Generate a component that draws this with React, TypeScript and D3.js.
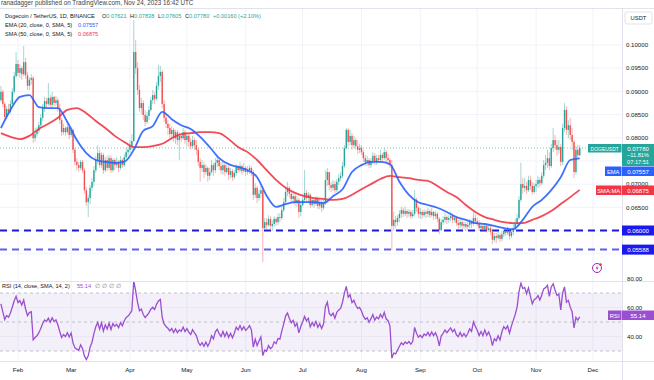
import React, { useMemo } from 'react';
import * as d3 from 'd3';

// ---------- DATA (DOGE/USDT daily, from 2023-01-23) ----------
const startDay = [2023, 0, 23];
const firstOpen = 0.0881;
const closes = [
  0.0899,0.0873,0.0845,0.0862,0.0856,0.0873,0.0899,0.0933,0.0959,0.0940,
  0.0950,0.0937,0.0963,0.0935,0.0912,0.0925,0.0929,0.0799,0.0808,0.0815,
  0.0827,0.0843,0.0864,0.0879,0.0873,0.0886,0.0871,0.0888,0.0875,0.0881,
  0.0864,0.0838,0.0812,0.0821,0.0812,0.0823,0.0806,0.0817,0.0774,0.0748,
  0.0741,0.0735,0.0748,0.0730,0.0687,0.0661,0.0670,0.0692,0.0705,0.0730,
  0.0752,0.0767,0.0741,0.0763,0.0730,0.0752,0.0735,0.0756,0.0730,0.0752,
  0.0741,0.0748,0.0735,0.0752,0.0741,0.0758,0.0769,0.0774,0.0782,0.0793,
  0.0985,0.0950,0.0903,0.0864,0.0875,0.0849,0.0834,0.0847,0.0860,0.0881,
  0.0892,0.0884,0.0912,0.0933,0.0942,0.0873,0.0843,0.0830,0.0821,0.0808,
  0.0817,0.0799,0.0812,0.0795,0.0804,0.0799,0.0812,0.0795,0.0804,0.0791,
  0.0782,0.0795,0.0784,0.0774,0.0748,0.0735,0.0741,0.0726,0.0735,0.0718,
  0.0726,0.0741,0.0730,0.0746,0.0752,0.0739,0.0730,0.0741,0.0726,0.0735,
  0.0720,0.0728,0.0715,0.0724,0.0737,0.0730,0.0739,0.0728,0.0735,0.0726,
  0.0730,0.0735,0.0726,0.0677,0.0692,0.0670,0.0679,0.0687,0.0605,0.0618,
  0.0612,0.0625,0.0610,0.0614,0.0625,0.0618,0.0629,0.0627,0.0644,0.0661,
  0.0683,0.0692,0.0679,0.0668,0.0674,0.0659,0.0666,0.0640,0.0655,0.0666,
  0.0681,0.0670,0.0677,0.0655,0.0666,0.0657,0.0668,0.0653,0.0661,0.0649,
  0.0659,0.0709,0.0726,0.0698,0.0692,0.0700,0.0687,0.0705,0.0713,0.0718,
  0.0739,0.0778,0.0817,0.0791,0.0804,0.0784,0.0795,0.0782,0.0774,0.0778,
  0.0769,0.0756,0.0748,0.0752,0.0741,0.0750,0.0761,0.0748,0.0756,0.0752,
  0.0763,0.0756,0.0769,0.0756,0.0752,0.0741,0.0610,0.0623,0.0618,0.0627,
  0.0636,0.0644,0.0636,0.0642,0.0636,0.0640,0.0631,0.0636,0.0666,0.0649,
  0.0636,0.0640,0.0633,0.0640,0.0636,0.0642,0.0633,0.0640,0.0631,0.0636,
  0.0625,0.0601,0.0618,0.0623,0.0629,0.0623,0.0627,0.0631,0.0623,0.0627,
  0.0616,0.0612,0.0618,0.0610,0.0614,0.0608,0.0612,0.0618,0.0614,0.0627,
  0.0620,0.0614,0.0605,0.0610,0.0603,0.0610,0.0601,0.0605,0.0597,0.0580,
  0.0588,0.0584,0.0590,0.0582,0.0592,0.0599,0.0595,0.0599,0.0588,0.0597,
  0.0605,0.0614,0.0627,0.0666,0.0700,0.0692,0.0696,0.0687,0.0709,0.0696,
  0.0683,0.0696,0.0700,0.0709,0.0702,0.0718,0.0741,0.0746,0.0756,0.0739,
  0.0778,0.0795,0.0784,0.0774,0.0780,0.0748,0.0821,0.0860,0.0817,0.0827,
  0.0806,0.0791,0.0726,0.0774,0.07621,0.0778,
];
const highs = [
  0.0912,0.0903,0.0877,0.0868,0.0873,0.0881,0.0907,0.0942,0.0985,0.0968,
  0.0959,0.0955,0.0998,0.0972,0.0942,0.0931,0.0937,0.0933,0.0821,0.0823,
  0.0834,0.0851,0.0873,0.0888,0.0886,0.0918,0.0892,0.0899,0.0890,0.0890,
  0.0886,0.0873,0.0843,0.0830,0.0825,0.0830,0.0827,0.0823,0.0821,0.0778,
  0.0756,0.0748,0.0752,0.0752,0.0735,0.0694,0.0677,0.0698,0.0713,0.0739,
  0.0761,0.0784,0.0774,0.0769,0.0767,0.0758,0.0761,0.0763,0.0761,0.0756,
  0.0756,0.0758,0.0752,0.0761,0.0756,0.0765,0.0778,0.0782,0.0795,0.0808,
  0.1054,0.1011,0.0963,0.0914,0.0886,0.0881,0.0860,0.0856,0.0868,0.0888,
  0.0903,0.0899,0.0920,0.0957,0.0955,0.0946,0.0881,0.0851,0.0838,0.0830,
  0.0825,0.0821,0.0817,0.0817,0.0812,0.0810,0.0821,0.0817,0.0812,0.0808,
  0.0799,0.0804,0.0799,0.0795,0.0778,0.0756,0.0752,0.0748,0.0743,0.0739,
  0.0735,0.0752,0.0746,0.0756,0.0761,0.0756,0.0748,0.0750,0.0746,0.0741,
  0.0739,0.0735,0.0733,0.0730,0.0743,0.0741,0.0748,0.0743,0.0746,0.0739,
  0.0739,0.0741,0.0739,0.0730,0.0702,0.0696,0.0687,0.0696,0.0692,0.0627,
  0.0627,0.0633,0.0631,0.0623,0.0631,0.0629,0.0636,0.0638,0.0651,0.0670,
  0.0696,0.0705,0.0696,0.0687,0.0683,0.0679,0.0674,0.0670,0.0659,0.0674,
  0.0730,0.0687,0.0683,0.0681,0.0672,0.0670,0.0674,0.0672,0.0668,0.0666,
  0.0666,0.0730,0.0735,0.0726,0.0705,0.0709,0.0707,0.0711,0.0722,0.0726,
  0.0748,0.0784,0.0821,0.0821,0.0817,0.0810,0.0804,0.0799,0.0795,0.0787,
  0.0784,0.0774,0.0763,0.0761,0.0756,0.0756,0.0769,0.0767,0.0763,0.0763,
  0.0774,0.0767,0.0778,0.0774,0.0765,0.0756,0.0752,0.0640,0.0631,0.0633,
  0.0644,0.0651,0.0649,0.0651,0.0646,0.0646,0.0644,0.0644,0.0687,0.0670,
  0.0653,0.0649,0.0644,0.0646,0.0644,0.0649,0.0646,0.0649,0.0642,0.0642,
  0.0640,0.0629,0.0625,0.0631,0.0638,0.0633,0.0633,0.0640,0.0636,0.0633,
  0.0631,0.0623,0.0625,0.0623,0.0620,0.0618,0.0620,0.0625,0.0623,0.0640,
  0.0636,0.0627,0.0623,0.0618,0.0614,0.0616,0.0614,0.0612,0.0610,0.0601,
  0.0595,0.0595,0.0597,0.0595,0.0599,0.0605,0.0603,0.0608,0.0603,0.0603,
  0.0614,0.0625,0.0636,0.0674,0.0746,0.0713,0.0713,0.0705,0.0718,0.0718,
  0.0705,0.0702,0.0709,0.0718,0.0715,0.0726,0.0752,0.0763,0.0774,0.0769,
  0.0787,0.0821,0.0806,0.0795,0.0795,0.0787,0.0830,0.0875,0.0868,0.0838,
  0.0843,0.0821,0.0795,0.0782,0.0785,0.07838,
];
const lows = [
  0.0877,0.0866,0.0836,0.0840,0.0849,0.0851,0.0868,0.0894,0.0929,0.0933,
  0.0929,0.0925,0.0933,0.0927,0.0903,0.0903,0.0914,0.0789,0.0791,0.0802,
  0.0810,0.0821,0.0836,0.0856,0.0864,0.0868,0.0862,0.0864,0.0868,0.0868,
  0.0856,0.0830,0.0804,0.0806,0.0804,0.0808,0.0797,0.0802,0.0767,0.0741,
  0.0730,0.0726,0.0730,0.0724,0.0679,0.0653,0.0629,0.0657,0.0685,0.0696,
  0.0724,0.0743,0.0735,0.0735,0.0722,0.0726,0.0728,0.0730,0.0724,0.0726,
  0.0730,0.0735,0.0726,0.0730,0.0735,0.0737,0.0752,0.0761,0.0767,0.0774,
  0.0791,0.0937,0.0892,0.0856,0.0851,0.0838,0.0825,0.0830,0.0838,0.0856,
  0.0873,0.0873,0.0881,0.0903,0.0920,0.0864,0.0834,0.0821,0.0806,0.0799,
  0.0795,0.0791,0.0787,0.0784,0.0752,0.0791,0.0795,0.0787,0.0782,0.0780,
  0.0774,0.0778,0.0774,0.0763,0.0739,0.0705,0.0726,0.0713,0.0720,0.0705,
  0.0709,0.0722,0.0718,0.0724,0.0737,0.0730,0.0722,0.0720,0.0718,0.0722,
  0.0709,0.0713,0.0707,0.0711,0.0718,0.0724,0.0726,0.0720,0.0724,0.0718,
  0.0720,0.0722,0.0718,0.0666,0.0670,0.0659,0.0664,0.0670,0.0532,0.0601,
  0.0603,0.0608,0.0603,0.0599,0.0608,0.0610,0.0612,0.0618,0.0623,0.0640,
  0.0657,0.0674,0.0670,0.0659,0.0657,0.0653,0.0651,0.0627,0.0631,0.0651,
  0.0661,0.0661,0.0659,0.0649,0.0651,0.0649,0.0653,0.0646,0.0646,0.0640,
  0.0644,0.0655,0.0696,0.0687,0.0683,0.0685,0.0681,0.0683,0.0698,0.0707,
  0.0713,0.0735,0.0774,0.0782,0.0784,0.0774,0.0778,0.0774,0.0765,0.0767,
  0.0763,0.0748,0.0739,0.0739,0.0735,0.0735,0.0743,0.0741,0.0741,0.0746,
  0.0748,0.0748,0.0752,0.0748,0.0741,0.0735,0.0558,0.0601,0.0605,0.0610,
  0.0618,0.0627,0.0629,0.0631,0.0627,0.0629,0.0625,0.0627,0.0631,0.0640,
  0.0627,0.0625,0.0625,0.0629,0.0627,0.0629,0.0627,0.0629,0.0623,0.0625,
  0.0618,0.0592,0.0599,0.0612,0.0616,0.0614,0.0616,0.0620,0.0616,0.0618,
  0.0610,0.0603,0.0605,0.0603,0.0603,0.0599,0.0601,0.0605,0.0605,0.0610,
  0.0614,0.0610,0.0599,0.0601,0.0597,0.0599,0.0595,0.0597,0.0590,0.0571,
  0.0575,0.0573,0.0580,0.0575,0.0577,0.0586,0.0588,0.0590,0.0580,0.0584,
  0.0590,0.0601,0.0610,0.0623,0.0661,0.0679,0.0683,0.0679,0.0683,0.0687,
  0.0677,0.0679,0.0683,0.0692,0.0694,0.0698,0.0713,0.0730,0.0735,0.0730,
  0.0735,0.0769,0.0774,0.0761,0.0765,0.0739,0.0741,0.0812,0.0806,0.0799,
  0.0795,0.0774,0.0713,0.0720,0.0755,0.07605,
];
// EMA(20) and SMA(50) every 5 days from the first candle
const emaStep = 5;
const emaValues = [
  0.0821,0.0860,0.0888,0.0892,0.0866,0.0864,0.0864,0.0834,0.0795,0.0767,
  0.0752,0.0748,0.0746,0.0748,0.0774,0.0815,0.0825,0.0856,0.0840,0.0827,
  0.0819,0.0802,0.0780,0.0756,0.0743,0.0737,0.0730,0.0715,0.0675,0.0651,
  0.0657,0.0661,0.0661,0.0661,0.0659,0.0674,0.0689,0.0726,0.0741,0.0748,
  0.0748,0.0743,0.0705,0.0677,0.0661,0.0655,0.0649,0.0640,0.0629,0.0623,
  0.0616,0.0614,0.0610,0.0605,0.0603,0.0623,0.0651,0.0666,0.0687,0.0715,
  0.0752,0.07557,
];
const smaValues = [
  0.0810,0.0802,0.0797,0.0804,0.0819,0.0830,0.0843,0.0860,0.0864,0.0853,
  0.0836,0.0821,0.0804,0.0791,0.0780,0.0780,0.0782,0.0787,0.0799,0.0808,
  0.0810,0.0812,0.0812,0.0810,0.0797,0.0780,0.0769,0.0752,0.0730,0.0709,
  0.0692,0.0681,0.0674,0.0670,0.0668,0.0666,0.0668,0.0677,0.0689,0.0700,
  0.0711,0.0718,0.0715,0.0713,0.0709,0.0707,0.0696,0.0683,0.0672,0.0655,
  0.0640,0.0629,0.0623,0.0618,0.0616,0.0616,0.0623,0.0631,0.0642,0.0657,
  0.0672,0.06875,
];
const rsiStart = 60;
const rsiPeriod = 14;
const rsiLast = '55.14';
const priceTicks = [0.1, 0.095, 0.09, 0.085, 0.08, 0.07, 0.065];
const gridPrices = [0.1, 0.095, 0.09, 0.085, 0.08, 0.075, 0.07, 0.065, 0.06, 0.055];
const monthLabels = ['Feb', 'Mar', 'Apr', 'May', 'Jun', 'Jul', 'Aug', 'Sep', 'Oct', 'Nov', 'Dec'];
const supportLevels = [
  { value: 0.06, label: '0.06000', color: '#1a1ad6' },
  { value: 0.05588, label: '0.05588', color: '#6060ec' },
];
const rsiTicks = [80, 60, 40];

const FONT = '"Liberation Sans", Arial, sans-serif';
const UP = '#26a69a';
const DOWN = '#ef5350';

const dayDate = (i: number) => new Date(startDay[0], startDay[1], startDay[2] + i);

export default function App() {
  const W = 654, H = 380;
  const paneR = 622;
  const mainTop = 9, mainBot = 281, rsiTop = 282, rsiBot = 361;

  const x = d3.scaleTime().domain([new Date(2023, 1, 1), new Date(2023, 11, 1)]).range([18, 593]);
  const y = d3.scaleLinear().domain([0.06, 0.1]).range([230.5, 45]);
  const yr = d3.scaleLinear().domain([30, 70]).range([351, 293]);

  const candles = closes.map((c, i) => {
    const o = i === 0 ? firstOpen : closes[i - 1];
    return { date: dayDate(i), o, c, h: Math.max(highs[i], o, c), l: Math.min(lows[i], o, c) };
  });

  const rsi = useMemo(() => {
    const changes = candles.map((d) => d.c - d.o);
    const M = d3.mean(changes.slice(0, rsiPeriod), (v) => Math.abs(v)) as number;
    let ag = (M * rsiStart) / 100;
    let al = (M * (100 - rsiStart)) / 100;
    return changes.map((ch) => {
      ag = (ag * (rsiPeriod - 1) + Math.max(ch, 0)) / rsiPeriod;
      al = (al * (rsiPeriod - 1) + Math.max(-ch, 0)) / rsiPeriod;
      return 100 - 100 / (1 + ag / al);
    });
  }, []);

  const maLine = d3
    .line<number>()
    .x((_, i) => x(dayDate(i * emaStep)))
    .y((v) => y(v))
    .curve(d3.curveMonotoneX);

  const rsiLine = d3
    .line<number>()
    .x((_, i) => x(dayDate(i)))
    .y((v) => yr(v));

  const months = monthLabels.map((m, i) => ({ m, date: new Date(2023, 1 + i, 1) }));
  const last = candles[candles.length - 1];
  const lastY = y(last.c);

  const t = (s: number) => ({ fontFamily: FONT, fontSize: s });
  const LEG = 5.6;

  return (
    <svg width={W} height={H} style={{ position: 'fixed', left: 0, top: 0, background: '#fff' }}>
      <defs>
        <clipPath id="mainClip"><rect x={0} y={mainTop} width={paneR} height={mainBot - mainTop} /></clipPath>
        <clipPath id="rsiClip"><rect x={0} y={rsiTop} width={paneR} height={rsiBot - rsiTop} /></clipPath>
      </defs>
      <rect x={0} y={0} width={W} height={H} fill="#fff" />

      {/* grids */}
      {gridPrices.map((p) => (
        <line key={p} x1={0} x2={paneR} y1={y(p)} y2={y(p)} stroke="#f0f3fa" strokeWidth={1} />
      ))}
      {months.map((d) => (
        <line key={d.m} x1={x(d.date)} x2={x(d.date)} y1={mainTop} y2={rsiBot} stroke="#f0f3fa" strokeWidth={1} />
      ))}

      {/* frame lines */}
      <line x1={0} x2={W} y1={8.5} y2={8.5} stroke="#e0e3eb" />
      <line x1={0} x2={W} y1={281.5} y2={281.5} stroke="#e0e3eb" strokeWidth={1.2} />
      <line x1={0} x2={W} y1={361.5} y2={361.5} stroke="#e0e3eb" />
      <line x1={paneR + 0.5} x2={paneR + 0.5} y1={8.5} y2={H} stroke="#e0e3eb" />

      {/* main pane */}
      <g clipPath="url(#mainClip)">
        {supportLevels.map((s) => (
          <line key={s.label} x1={0} x2={paneR} y1={y(s.value)} y2={y(s.value)} stroke={s.color} strokeWidth={2} strokeDasharray="7,5" />
        ))}
        <line x1={0} x2={paneR} y1={lastY} y2={lastY} stroke={UP} strokeOpacity={0.6} strokeDasharray="1,2" />
        {candles.map((d, i) => {
          const cx = x(d.date);
          const up = d.c >= d.o;
          const col = up ? UP : DOWN;
          const top = y(Math.max(d.o, d.c));
          const bot = y(Math.min(d.o, d.c));
          return (
            <g key={i}>
              <line x1={cx} x2={cx} y1={y(d.h)} y2={y(d.l)} stroke={col} strokeOpacity={0.55} strokeWidth={0.8} />
              <rect x={cx - 0.7} y={top} width={1.4} height={Math.max(bot - top, 0.8)} fill={col} />
            </g>
          );
        })}
        <path d={maLine(smaValues) || ''} fill="none" stroke="#f23645" strokeWidth={1.8} strokeOpacity={0.9} />
        <path d={maLine(emaValues) || ''} fill="none" stroke="#2962ff" strokeWidth={1.8} strokeOpacity={0.9} />
      </g>

      {/* header & legend */}
      <text x={1} y={5} {...t(6.3)} fill="#444">ranadagger published on TradingView.com, Nov 24, 2023 16:42 UTC</text>
      <text y={18} {...t(LEG)} fill="#131722">
        <tspan x={5}>Dogecoin / TetherUS, 1D, BINANCE</tspan>
        <tspan x={102}>O</tspan><tspan fill={UP}>0.07621</tspan>
        <tspan x={130}>H</tspan><tspan fill={UP}>0.07838</tspan>
        <tspan x={158}>L</tspan><tspan fill={UP}>0.07605</tspan>
        <tspan x={185}>C</tspan><tspan fill={UP}>0.07780</tspan>
        <tspan x={213} fill={UP}>+0.00160 (+2.10%)</tspan>
      </text>
      <text y={26.5} {...t(LEG)} fill="#131722">
        <tspan x={5}>EMA (20, close, 0, SMA, 5)</tspan>
        <tspan x={78} fill="#2962ff">0.07557</tspan>
      </text>
      <text y={35.5} {...t(LEG)} fill="#131722">
        <tspan x={5}>SMA (50, close, 0, SMA, 5)</tspan>
        <tspan x={78} fill="#f23645">0.06875</tspan>
      </text>

      {/* crypto event icon */}
      <circle cx={597} cy={268} r={4.5} fill="#fff" stroke="#9c27b0" strokeWidth={1} />
      <path d="M597.8 265 L595.6 268.4 L597.3 268.4 L596.4 271 L598.6 267.4 L596.9 267.4 Z" fill="#9c27b0" />
      <circle cx={600.5} cy={264.5} r={1.3} fill="#f23645" />

      {/* price axis */}
      <rect x={625} y={12} width={27} height={12} rx={2} fill="#fff" stroke="#e0e3eb" />
      <text x={638.5} y={20.3} textAnchor="middle" {...t(5.8)} fill="#131722">USDT</text>
      {priceTicks.map((p) => (
        <text key={p} x={626} y={y(p) + 2.2} {...t(6.1)} fill="#131722">{p.toFixed(5)}</text>
      ))}
      <rect x={588} y={144} width={33.5} height={8.5} fill={UP} />
      <text x={604.7} y={150.5} textAnchor="middle" {...t(5)} fill="#fff">DOGEUSDT</text>
      <rect x={622} y={144} width={32} height={22} fill={UP} />
      <text x={638} y={150.6} textAnchor="middle" {...t(6)} fill="#fff">{last.c.toFixed(5)}</text>
      <text x={638} y={157.4} textAnchor="middle" {...t(5.6)} fill="#fff">−11.81%</text>
      <text x={638} y={164} textAnchor="middle" {...t(5.6)} fill="#fff">07:17:51</text>
      <rect x={605} y={166.5} width={16.5} height={9.5} fill="#2962ff" />
      <text x={613.2} y={173.5} textAnchor="middle" {...t(5.8)} fill="#fff">EMA</text>
      <rect x={622} y={166.5} width={32} height={9.5} fill="#2962ff" />
      <text x={638} y={173.5} textAnchor="middle" {...t(6)} fill="#fff">{emaValues[emaValues.length - 1].toFixed(5)}</text>
      <rect x={596} y={185.5} width={25.5} height={9.5} fill="#f23645" />
      <text x={608.7} y={192.5} textAnchor="middle" {...t(5.8)} fill="#fff">SMA:MA</text>
      <rect x={622} y={185.5} width={32} height={9.5} fill="#f23645" />
      <text x={638} y={192.5} textAnchor="middle" {...t(6)} fill="#fff">{smaValues[smaValues.length - 1].toFixed(5)}</text>
      {supportLevels.map((s) => (
        <g key={s.label}>
          <rect x={622} y={y(s.value) - 5} width={32} height={10} fill="#1a1aef" />
          <text x={638} y={y(s.value) + 2.2} textAnchor="middle" {...t(6)} fill="#fff">{s.label}</text>
        </g>
      ))}

      {/* RSI pane */}
      <rect x={0} y={yr(70)} width={paneR} height={yr(30) - yr(70)} fill="#7e57c2" fillOpacity={0.09} />
      {[60, 40].map((v) => (
        <line key={v} x1={0} x2={paneR} y1={yr(v)} y2={yr(v)} stroke="#ebe6f5" />
      ))}
      {[70, 50, 30].map((v) => (
        <line key={v} x1={0} x2={paneR} y1={yr(v)} y2={yr(v)} stroke="#b2b5be" strokeDasharray="3,3" strokeWidth={0.8} />
      ))}
      <g clipPath="url(#rsiClip)">
        <path d={rsiLine(rsi) || ''} fill="none" stroke="#9b4fd0" strokeWidth={1.3} />
      </g>
      <text y={288} {...t(LEG)} fill="#131722">
        <tspan x={2}>RSI (14, close, SMA, 14, 2)</tspan>
        <tspan x={77} fill="#9b4fd0">{rsiLast}</tspan>
        <tspan x={95} fill="#787b86">∅</tspan>
        <tspan x={102} fill="#787b86">∅</tspan>
        <tspan x={109} fill="#787b86">∅</tspan>
        <tspan x={116} fill="#787b86">∅</tspan>
      </text>
      {rsiTicks.map((v) => (
        <text key={v} x={627} y={yr(v) + 2.2} {...t(6.1)} fill="#131722">{v.toFixed(2)}</text>
      ))}
      <rect x={608} y={310.5} width={13.5} height={9.5} fill="#9b4fd0" />
      <text x={614.7} y={317.5} textAnchor="middle" {...t(5.8)} fill="#fff">RSI</text>
      <rect x={622} y={310.5} width={32} height={9.5} fill="#9b4fd0" />
      <text x={638} y={317.5} textAnchor="middle" {...t(6)} fill="#fff">{rsiLast}</text>

      {/* time axis */}
      {months.map((d) => (
        <text key={d.m} x={x(d.date)} y={371.5} textAnchor="middle" {...t(6.1)} fill="#131722">{d.m}</text>
      ))}
    </svg>
  );
}
